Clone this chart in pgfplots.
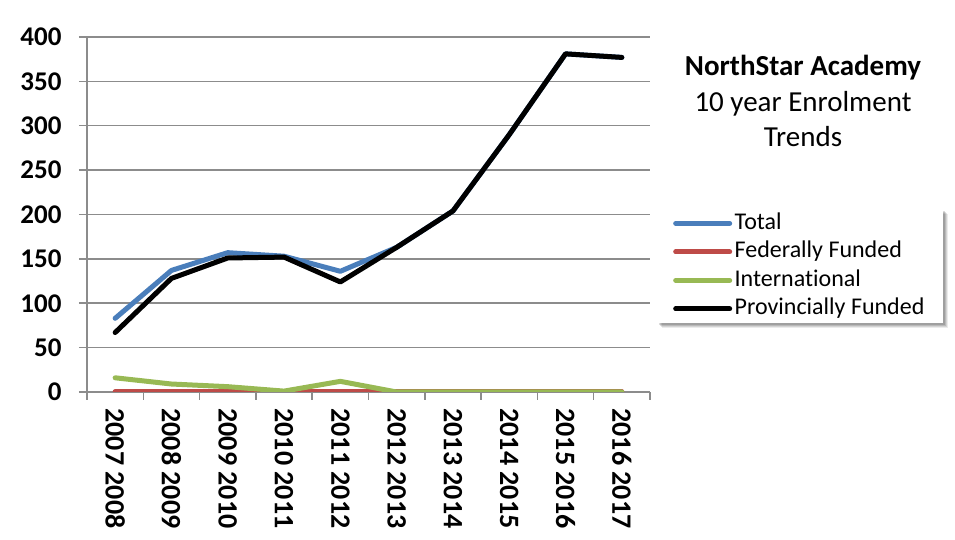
\documentclass[border=0pt]{standalone}
\usepackage{fontspec}
\setmainfont{Carlito}[Ligatures=NoCommon]
\usepackage{pgfplots}
\pgfplotsset{compat=1.18}

\definecolor{cTotal}{HTML}{4A7EBB}
\definecolor{cFed}{HTML}{BE4B48}
\definecolor{cIntl}{HTML}{98B954}
\definecolor{cGrid}{HTML}{8C8C8C}

\pgfdeclarelayer{bg}
\pgfsetlayers{bg,main}

\begin{document}
\begin{tikzpicture}
\useasboundingbox (0,0) rectangle (955pt,540pt);
\begin{axis}[
  at={(87pt,148pt)}, anchor=south west,
  scale only axis, width=563pt, height=355pt,
  xmin=-0.5, xmax=9.5, ymin=0, ymax=400,
  ytick={0,50,...,400},
  xtick={0,...,9},
  xticklabels={2007 2008,2008 2009,2009 2010,2010 2011,2011 2012,
               2012 2013,2013 2014,2014 2015,2015 2016,2016 2017},
  minor xtick={-0.5,0.5,...,9.5},
  major x tick style={draw=none},
  axis x line*=bottom, axis y line*=left,
  axis line style={cGrid, line width=1.5pt, -},
  tick style={cGrid, line width=1.5pt},
  tick align=outside,
  major tick length=8pt, minor tick length=8pt,
  ymajorgrids, grid style={cGrid, line width=1.5pt},
  ticklabel style={font=\bfseries\fontsize{27}{27}\selectfont},
  xticklabel style={font=\bfseries\fontsize{28}{28}\selectfont,
                    rotate=-90, anchor=west, xshift=5pt},
  /pgf/number format/assume math mode=true,
  yticklabel style={xshift=-14pt},
  every axis plot/.append style={line width=5pt, line join=round, no markers},
  legend cell align=left,
  legend image code/.code={\draw[#1] (0pt,0pt) -- (54pt,0pt);},
  legend style={
    name=leg,
    at={(1.0124,0.515)}, anchor=north west,
    draw=none, fill=white,
    font=\fontsize{24}{24}\selectfont,
    inner xsep=16pt, inner ysep=3pt,
    row sep=6.5pt,
    nodes={inner xsep=2.5pt, inner ysep=0pt, text height=17pt, text depth=5pt},
  },
]
\addplot[cTotal, line cap=round] coordinates {
  (0,83) (1,137) (2,157) (3,153) (4,136) (5,163) (6,204) (7,290) (8,381) (9,377)};
\addlegendentry{Total}
\addplot[cFed, line cap=round] coordinates {
  (0,0) (1,0) (2,0) (3,0) (4,0) (5,0) (6,0) (7,0) (8,0) (9,0)};
\addlegendentry{Federally Funded}
\addplot[cIntl, line cap=round] coordinates {
  (0,16) (1,9) (2,6) (3,1) (4,12) (5,0) (6,0) (7,0) (8,0) (9,0)};
\addlegendentry{International}
\addplot[black, line cap=round] coordinates {
  (0,67) (1,128) (2,151) (3,152) (4,124) (5,163) (6,204) (7,290) (8,381) (9,377)};
\addlegendentry{Provincially Funded}
\end{axis}
\begin{pgfonlayer}{bg}
  \foreach \s/\o in {5/0.08,4/0.10,3/0.12,2/0.14} {
    \fill[black, opacity=\o]
      ([xshift=\s pt, yshift=-\s pt]leg.south west) rectangle
      ([xshift=\s pt, yshift=-\s pt]leg.north east);
  }
\end{pgfonlayer}
\node[align=center, anchor=north, inner sep=0pt, font=\fontsize{29}{35.5}\selectfont]
  at (803pt,485pt) {\textbf{NorthStar Academy}\\10 year Enrolment\\Trends};
\end{tikzpicture}
\end{document}
